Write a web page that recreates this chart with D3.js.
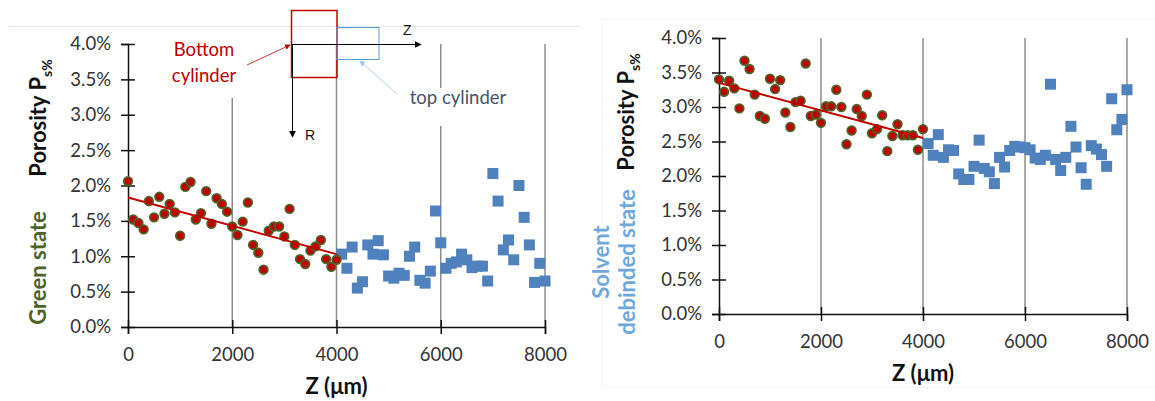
<!DOCTYPE html>
<html>
<head>
<meta charset="utf-8">
<script src="https://cdn.jsdelivr.net/npm/d3@7"></script>
<style>
  body { margin: 0; background: #fff; }
  svg { display: block; font-family: Lato, "Open Sans", sans-serif; }
</style>
</head>
<body>
<svg class="js-chart" width="1155" height="401"></svg>
<script>
// positions along the sample (µm)
var zBottom = [0, 100, 200, 300, 400, 500, 600, 700, 800, 900, 1000, 1100, 1200, 1300, 1400, 1500, 1600, 1700, 1800, 1900,
               2000, 2100, 2200, 2300, 2400, 2500, 2600, 2700, 2800, 2900, 3000, 3100, 3200, 3300, 3400, 3500, 3600, 3700, 3800, 3900, 4000];
var zTop = [4100, 4200, 4300, 4400, 4500, 4600, 4700, 4800, 4900, 5000, 5100, 5200, 5300, 5400, 5500, 5600, 5700, 5800, 5900, 6000,
            6100, 6200, 6300, 6400, 6500, 6600, 6700, 6800, 6900, 7000, 7100, 7200, 7300, 7400, 7500, 7600, 7700, 7800, 7900, 8000];

// porosity (%) - green state
var greenBottom = [2.06, 1.52, 1.47, 1.38, 1.78, 1.55, 1.84, 1.60, 1.74, 1.62, 1.29, 1.98, 2.05, 1.52, 1.61, 1.92, 1.46, 1.82, 1.74, 1.63,
                   1.42, 1.30, 1.49, 1.76, 1.16, 1.05, 0.81, 1.36, 1.42, 1.42, 1.28, 1.67, 1.16, 0.96, 0.89, 1.08, 1.14, 1.23, 0.96, 0.85, 0.95];
var greenTop = [1.03, 0.83, 1.13, 0.55, 0.64, 1.16, 1.03, 1.22, 1.02, 0.72, 0.69, 0.76, 0.73, 1.00, 1.13, 0.66, 0.62, 0.79, 1.64, 1.19,
                0.83, 0.90, 0.92, 1.03, 0.95, 0.84, 0.86, 0.86, 0.65, 2.17, 1.78, 1.09, 1.23, 0.95, 2.00, 1.55, 1.16, 0.63, 0.90, 0.65];

// porosity (%) - solvent debinded state
var debindBottom = [3.40, 3.22, 3.38, 3.27, 2.98, 3.67, 3.55, 3.18, 2.87, 2.83, 3.41, 3.26, 3.39, 2.92, 2.71, 3.07, 3.09, 3.63, 2.87, 2.89,
                    2.77, 3.01, 3.01, 3.25, 3.00, 2.46, 2.66, 2.97, 2.87, 3.18, 2.62, 2.68, 2.88, 2.36, 2.58, 2.75, 2.59, 2.59, 2.59, 2.38, 2.68];
var debindTop = [2.47, 2.30, 2.60, 2.27, 2.38, 2.37, 2.03, 1.95, 1.95, 2.14, 2.52, 2.11, 2.06, 1.89, 2.27, 2.13, 2.37, 2.43, 2.42, 2.41,
                 2.38, 2.26, 2.24, 2.30, 3.33, 2.24, 2.08, 2.27, 2.72, 2.42, 2.12, 1.88, 2.44, 2.39, 2.31, 2.14, 3.12, 2.67, 2.82, 3.25];

// linear trend lines on the bottom cylinder
var trendZ = [0, 4000];
var greenTrend = [1.83, 1.03];
var debindTrend = [3.35, 2.55];

var xTicks = [0, 2000, 4000, 6000, 8000];
var yTicks = [0, 0.5, 1.0, 1.5, 2.0, 2.5, 3.0, 3.5, 4.0];

var RED = '#c00000',
    OLIVE = '#4f6228',
    BLUE = '#4f81bd',
    svg = d3.select('.js-chart');

svg.append('rect').attr('width', 1155).attr('height', 401).attr('fill', '#fff');

// faint picture frames
svg.append('line').attr('x1', 9).attr('x2', 580).attr('y1', 26.5).attr('y2', 26.5)
    .attr('stroke', '#e4e4e4');
svg.append('rect').attr('x', 602.5).attr('y', 19.5).attr('width', 560).attr('height', 368)
    .attr('fill', 'none').attr('stroke', '#f4f4f4');

function drawPanel(opt) {
  var x = d3.scaleLinear().domain([0, 8000]).range([opt.left, opt.right]),
      y = d3.scaleLinear().domain([0, 4]).range([opt.bottom, opt.top]),
      g = svg.append('g');

  // vertical gridlines
  g.selectAll('.grid')
      .data(xTicks.slice(1))
      .enter()
      .append('line')
      .attr('x1', function(d) { return x(d); })
      .attr('x2', function(d) { return x(d); })
      .attr('y1', y(4))
      .attr('y2', y(0))
      .attr('stroke', '#8c8c8c')
      .attr('stroke-width', 1.5);

  if (opt.inset) opt.inset(g, x, y);

  // axes with crossing tick marks
  var yAxis = g.append('g')
      .attr('transform', 'translate(' + x(0) + ',0)')
      .call(d3.axisLeft(y).tickValues(yTicks).tickSize(7).tickPadding(10)
        .tickFormat(function(d) { return d3.format('.1f')(d) + '%'; }));
  var xAxis = g.append('g')
      .attr('transform', 'translate(0,' + y(0) + ')')
      .call(d3.axisBottom(x).tickValues(xTicks).tickSize(7).tickPadding(14)
        .tickFormat(d3.format('d')));
  yAxis.selectAll('line').attr('x1', -7).attr('x2', 7);
  xAxis.selectAll('line').attr('y1', -7).attr('y2', 7);
  [yAxis, xAxis].forEach(function(a) {
    a.select('.domain').attr('stroke', '#111').attr('stroke-width', 1.5);
    a.selectAll('.tick line').attr('stroke', '#111').attr('stroke-width', 1.5);
    a.selectAll('text').attr('font-size', 18.5).attr('fill', '#333').attr('font-family', 'Lato, sans-serif');
  });

  // blue squares: top cylinder
  g.selectAll('.sq')
      .data(zTop.map(function(z, i) { return [z, opt.topVals[i]]; }))
      .enter()
      .append('rect')
      .attr('x', function(d) { return x(d[0]) - 5.5; })
      .attr('y', function(d) { return y(d[1]) - 5.5; })
      .attr('width', 11)
      .attr('height', 11)
      .attr('fill', BLUE);

  // red circles: bottom cylinder
  g.selectAll('.dot')
      .data(zBottom.map(function(z, i) { return [z, opt.bottomVals[i]]; }))
      .enter()
      .append('circle')
      .attr('cx', function(d) { return x(d[0]); })
      .attr('cy', function(d) { return y(d[1]); })
      .attr('r', 4.3)
      .attr('fill', RED)
      .attr('stroke', OLIVE)
      .attr('stroke-width', 1.8);

  // trend on top of the dots like in excel
  g.append('line')
      .attr('x1', x(trendZ[0])).attr('y1', y(opt.trend[0]))
      .attr('x2', x(trendZ[1])).attr('y2', y(opt.trend[1]))
      .attr('stroke', RED).attr('stroke-width', 2);

  // x title
  g.append('text')
      .attr('x', (opt.left + opt.right) / 2)
      .attr('y', opt.bottom + 67)
      .attr('text-anchor', 'middle')
      .attr('font-size', 22)
      .attr('font-weight', 'bold')
      .attr('fill', '#111')
      .text('Z (\u03bcm)');

  // y title with subscript
  var yt = g.append('text')
      .attr('transform', 'translate(' + opt.titleX + ',' + opt.titleY + ') rotate(-90)')
      .attr('text-anchor', 'middle')
      .attr('font-size', 22)
      .attr('font-weight', 'bold')
      .attr('fill', '#111');
  yt.append('tspan').text('Porosity P');
  yt.append('tspan').attr('font-size', 14).attr('dy', 6).text('s%');

  return g;
}

function drawInset(g, x, y) {
  var defs = svg.append('defs');
  [['arrBlack', '#000'], ['arrRed', RED], ['arrBlue', '#9dc3e6']].forEach(function(m) {
    defs.append('marker')
        .attr('id', m[0])
        .attr('viewBox', '0 0 10 10')
        .attr('refX', 9).attr('refY', 5)
        .attr('markerWidth', 7).attr('markerHeight', 7)
        .attr('orient', 'auto')
      .append('path')
        .attr('d', 'M0,0 L10,5 L0,10 z')
        .attr('fill', m[1]);
  });

  // white text boxes hide the gridlines behind the labels
  g.append('rect').attr('x', 158).attr('y', 30).attr('width', 88).attr('height', 68).attr('fill', '#fff');
  g.append('rect').attr('x', 398).attr('y', 88).attr('width', 120).attr('height', 38).attr('fill', '#fff');

  g.append('rect').attr('x', 291.5).attr('y', 10.5).attr('width', 45.5).attr('height', 67)
      .attr('fill', 'none').attr('stroke', RED).attr('stroke-width', 1.5);
  g.append('rect').attr('x', 337).attr('y', 27.5).attr('width', 42).attr('height', 32)
      .attr('fill', 'none').attr('stroke', '#5b9bd5').attr('stroke-width', 1);

  g.append('line').attr('x1', 291).attr('y1', 44.5).attr('x2', 421).attr('y2', 44.5)
      .attr('stroke', '#000').attr('marker-end', 'url(#arrBlack)');
  g.append('line').attr('x1', 292.5).attr('y1', 44).attr('x2', 292.5).attr('y2', 137)
      .attr('stroke', '#000').attr('marker-end', 'url(#arrBlack)');
  g.append('text').attr('x', 403).attr('y', 35).attr('font-size', 14).attr('fill', '#111')
      .attr('font-family', 'Liberation Sans, sans-serif').text('Z');
  g.append('text').attr('x', 305).attr('y', 140).attr('font-size', 14).attr('fill', '#111')
      .attr('font-family', 'Liberation Sans, sans-serif').text('R');

  var bc = g.append('text').attr('text-anchor', 'middle').attr('font-size', 18.5).attr('fill', RED);
  bc.append('tspan').attr('x', 204).attr('y', 56).text('Bottom');
  bc.append('tspan').attr('x', 204).attr('y', 82).text('cylinder');
  g.append('line').attr('x1', 247).attr('y1', 65).attr('x2', 290).attr('y2', 45)
      .attr('stroke', RED).attr('stroke-width', 0.8).attr('marker-end', 'url(#arrRed)');

  g.append('text').attr('x', 458).attr('y', 104).attr('text-anchor', 'middle')
      .attr('font-size', 18.5).attr('fill', '#44546a').text('top cylinder');
  g.append('line').attr('x1', 397).attr('y1', 94).attr('x2', 360).attr('y2', 61)
      .attr('stroke', '#9dc3e6').attr('stroke-width', 0.8).attr('marker-end', 'url(#arrBlue)');
}

drawPanel({ left: 128, right: 545, top: 44, bottom: 327, titleX: 46, titleY: 118,
            bottomVals: greenBottom, topVals: greenTop, trend: greenTrend, inset: drawInset });
drawPanel({ left: 719, right: 1127, top: 38, bottom: 314, titleX: 634, titleY: 112,
            bottomVals: debindBottom, topVals: debindTop, trend: debindTrend });

// state labels
svg.append('text')
    .attr('transform', 'translate(46,268) rotate(-90)')
    .attr('text-anchor', 'middle')
    .attr('font-size', 22).attr('font-weight', 'bold').attr('fill', OLIVE)
    .text('Green state');
var st = svg.append('text')
    .attr('transform', 'translate(609,262) rotate(-90)')
    .attr('text-anchor', 'middle')
    .attr('font-size', 22).attr('font-weight', 'bold').attr('fill', '#6fa8dc');
st.append('tspan').attr('x', 0).attr('y', 0).text('Solvent');
st.append('tspan').attr('x', 0).attr('y', 26).text('debinded state');
</script>
</body>
</html>
